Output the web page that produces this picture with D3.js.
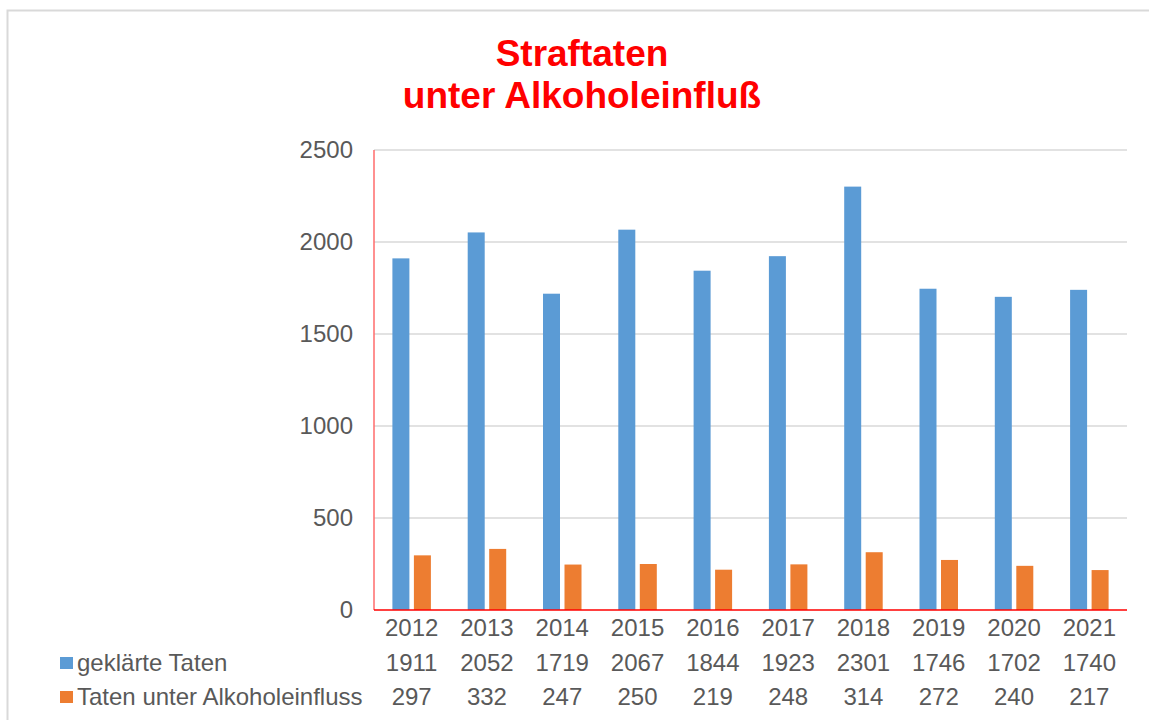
<!DOCTYPE html>
<html>
<head>
<meta charset="utf-8">
<script src="https://cdn.jsdelivr.net/npm/d3@7"></script>
<style>
  body { margin: 0; background: #fff; }
  svg { font-family: Arial, "Liberation Sans", sans-serif; }
</style>
</head>
<body>
<svg id="chart" width="1149" height="720"></svg>
<script>
const years = ["2012", "2013", "2014", "2015", "2016", "2017", "2018", "2019", "2020", "2021"];
const geklaert = [1911, 2052, 1719, 2067, 1844, 1923, 2301, 1746, 1702, 1740];
const alkohol = [297, 332, 247, 250, 219, 248, 314, 272, 240, 217];
const seriesNames = ["geklärte Taten", "Taten unter Alkoholeinfluss"];
const seriesColors = ["#5B9BD5", "#ED7D31"];
const yTicks = [0, 500, 1000, 1500, 2000, 2500];

const svg = d3.select("#chart");
const textColor = "#595959";

// outer chart border
svg.append("rect")
    .attr("x", 7.5).attr("y", 10.5)
    .attr("width", 1160).attr("height", 730)
    .attr("fill", "none")
    .attr("stroke", "#d9d9d9")
    .attr("stroke-width", 2);

// title
const title = svg.append("text")
    .attr("text-anchor", "middle")
    .attr("fill", "#ff0000")
    .style("font-size", "37px")
    .style("font-weight", "bold");
title.append("tspan").attr("x", 582).attr("y", 66).text("Straftaten");
title.append("tspan").attr("x", 582).attr("y", 108).text("unter Alkoholeinfluß");

const plotL = 374, plotR = 1127, plotT = 150, plotB = 610;

const x = d3.scaleBand()
    .domain(years)
    .range([plotL, plotR]);

const y = d3.scaleLinear()
    .domain([0, 2500])
    .range([plotB, plotT]);

// gridlines
svg.append("g")
    .selectAll("line")
    .data(yTicks.filter(d => d > 0))
    .enter()
    .append("line")
    .attr("x1", plotL).attr("x2", plotR)
    .attr("y1", d => y(d)).attr("y2", d => y(d))
    .attr("stroke", "#d9d9d9")
    .attr("stroke-width", 1.5);

// y axis labels
const yAxis = svg.append("g")
    .attr("transform", `translate(${plotL - 21},0)`)
    .call(d3.axisLeft(y).tickValues(yTicks).tickFormat(d3.format("d")).tickSize(0).tickPadding(0));
yAxis.select(".domain").remove();
yAxis.selectAll("text")
    .attr("fill", textColor)
    .style("font-size", "24px")
    .style("font-family", "Arial, 'Liberation Sans', sans-serif");

const barW = 17, gap = 4.5;
const cx = d => x(d) + x.bandwidth() / 2;

// bars
svg.append("g")
    .selectAll("rect")
    .data(years)
    .enter()
    .append("rect")
    .attr("x", d => cx(d) - gap / 2 - barW)
    .attr("width", barW)
    .attr("y", (d, i) => y(geklaert[i]))
    .attr("height", (d, i) => y(0) - y(geklaert[i]))
    .attr("fill", seriesColors[0]);

svg.append("g")
    .selectAll("rect")
    .data(years)
    .enter()
    .append("rect")
    .attr("x", d => cx(d) + gap / 2)
    .attr("width", barW)
    .attr("y", (d, i) => y(alkohol[i]))
    .attr("height", (d, i) => y(0) - y(alkohol[i]))
    .attr("fill", seriesColors[1]);

// red axis lines
svg.append("line")
    .attr("x1", plotL).attr("x2", plotL)
    .attr("y1", plotT).attr("y2", plotB)
    .attr("stroke", "#ff6b6b").attr("stroke-width", 1.5);
svg.append("line")
    .attr("x1", plotL).attr("x2", plotR)
    .attr("y1", plotB).attr("y2", plotB)
    .attr("stroke", "#ff0000").attr("stroke-width", 1.5);

// data table
const rowY = [636, 671, 705];
const table = svg.append("g")
    .style("font-size", "24px")
    .attr("fill", textColor);

table.selectAll(".yr")
    .data(years)
    .enter()
    .append("text")
    .attr("class", "yr")
    .attr("text-anchor", "middle")
    .attr("x", d => cx(d))
    .attr("y", rowY[0])
    .text(d => d);

[geklaert, alkohol].forEach((vals, s) => {
    table.selectAll(".v" + s)
        .data(vals)
        .enter()
        .append("text")
        .attr("class", "v" + s)
        .attr("text-anchor", "middle")
        .attr("x", (d, i) => cx(years[i]))
        .attr("y", rowY[s + 1])
        .text(d => d);

    svg.append("rect")
        .attr("x", 60).attr("y", rowY[s + 1] - 14)
        .attr("width", 13).attr("height", 12)
        .attr("fill", seriesColors[s]);

    table.append("text")
        .attr("x", 77)
        .attr("y", rowY[s + 1])
        .text(seriesNames[s]);
});
</script>
</body>
</html>
